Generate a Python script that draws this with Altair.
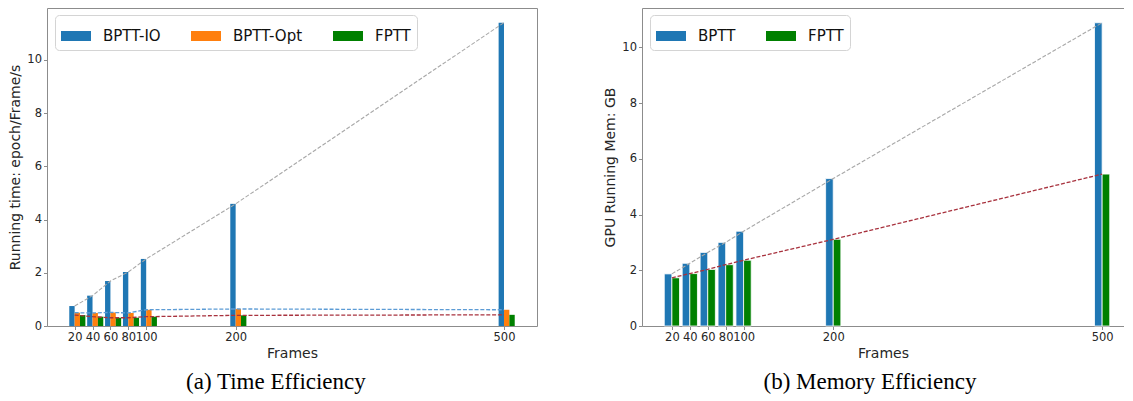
import altair as alt
import pandas as pd

# ---------------- data ----------------
frames = [20, 40, 60, 80, 100, 200, 500]

time_series = ["BPTT-IO", "BPTT-Opt", "FPTT"]
time_bptt_io = [0.75, 1.14, 1.69, 2.03, 2.52, 4.59, 11.40]
time_bptt_opt = [0.50, 0.49, 0.51, 0.49, 0.61, 0.64, 0.61]
time_fptt = [0.41, 0.35, 0.31, 0.31, 0.35, 0.40, 0.42]

mem_series = ["BPTT", "FPTT"]
mem_bptt = [1.87, 2.25, 2.64, 3.00, 3.40, 5.29, 10.88]
mem_fptt = [1.73, 1.88, 2.03, 2.20, 2.36, 3.11, 5.45]

FONT = "DejaVu Sans"
AX = "#8c8c8c"
LEGEND_SHAPE = "M-1,-0.333L1,-0.333L1,0.333L-1,0.333Z"

SPINE = dict(labels=False, ticks=False, title=None, domain=True,
             domainColor=AX, domainWidth=1)


def panel(names, values, bar_colors, line_colors, bar_w, first_offset,
          x_domain, y_max, y_title, caption, bar_stroke, width, cap_dx,
          right_spine):
    rows = []
    for i, (name, vals) in enumerate(zip(names, values)):
        for f, v in zip(frames, vals):
            x0 = f + (first_offset + i) * bar_w
            rows.append({"series": name, "frame": f, "value": v,
                         "x0": x0, "x1": x0 + bar_w, "base": 0})
    df = pd.DataFrame(rows)

    xscale = alt.Scale(domain=x_domain, nice=False, zero=False)
    yscale = alt.Scale(domain=[0, y_max], nice=False)

    bars = alt.Chart(df).mark_bar(
        stroke=bar_stroke if bar_stroke else "transparent",
        strokeWidth=0.8 if bar_stroke else 0
    ).encode(
        x=alt.X("x0:Q", scale=xscale, axis=alt.Axis(
            values=frames, title="Frames", labelOverlap=False,
            labelFlush=False)),
        x2="x1:Q",
        y=alt.Y("value:Q", scale=yscale, axis=alt.Axis(
            values=[0, 2, 4, 6, 8, 10], title=y_title)),
        y2="base:Q",
        color=alt.Color("series:N", sort=names,
                        scale=alt.Scale(domain=names, range=bar_colors),
                        legend=alt.Legend(
                            title=None, orient="none", legendX=8, legendY=7,
                            direction="horizontal", columns=len(names),
                            symbolType=LEGEND_SHAPE, symbolSize=900,
                            symbolStrokeWidth=0, labelOffset=12,
                            columnPadding=30, padding=6,
                            labelFont=FONT, labelFontSize=15,
                            labelColor="#111", fillColor="white",
                            strokeColor="#d4d4d4", cornerRadius=4)),
    )

    layers = [bars]
    for k, (name, col) in enumerate(zip(names, line_colors)):
        if k == 0:
            xa = alt.Axis(orient="top", **SPINE)
            ya = alt.Axis(orient="right", **SPINE) if right_spine else None
        else:
            xa, ya = None, None
        layers.append(
            alt.Chart(df).transform_filter(alt.datum.series == name)
            .mark_line(color=col, strokeDash=[4, 1.8],
                       strokeWidth=1.1 if col == "#a8a8a8" else 1.3)
            .encode(x=alt.X("frame:Q", scale=xscale, axis=xa),
                    y=alt.Y("value:Q", scale=yscale, axis=ya))
        )
    return alt.layer(*layers).resolve_axis(
        x="independent", y="independent"
    ).properties(
        width=width, height=318,
        title=alt.TitleParams(caption, orient="bottom", anchor="middle",
                              frame="bounds", dx=cap_dx,
                              font="Liberation Serif", fontSize=23,
                              fontWeight="normal", color="black", offset=11),
    )


left = panel(time_series, [time_bptt_io, time_bptt_opt, time_fptt],
             ["#1f77b4", "#ff7f0e", "#008000"],
             ["#a8a8a8", "#5b9bd5", "#a8323e"],
             6, -1, [-10.9, 536.9], 11.95,
             "Running time: epoch/Frame/s", "(a) Time Efficiency", None, 490,
             3, True)

# right panel is cropped at the window edge in the reference: same scale,
# narrower view, no right spine
right = panel(mem_series, [mem_bptt, mem_fptt],
              ["#1f77b4", "#008000"],
              ["#a8a8a8", "#a8323e"],
              8.5, -1, [-13.35, 524.4], 11.41,
              "GPU Running Mem: GB", "(b) Memory Efficiency", "white", 482,
              6, False)

chart = alt.hconcat(left, right, spacing=66).resolve_scale(
    color="independent", x="independent", y="independent"
).properties(padding=0).configure_view(
    stroke=None
).configure_axis(
    grid=False, domainColor=AX, tickColor=AX, tickSize=3.5,
    labelFont=FONT, labelFontSize=11.5, labelColor="#262626",
    labelPadding=2, titleFont=FONT, titleFontSize=14,
    titleFontWeight="normal", titleColor="#262626",
).configure_axisX(titlePadding=3).configure_axisY(titlePadding=4)

chart.save("out.html", embed_options={"renderer": "svg", "actions": False})
